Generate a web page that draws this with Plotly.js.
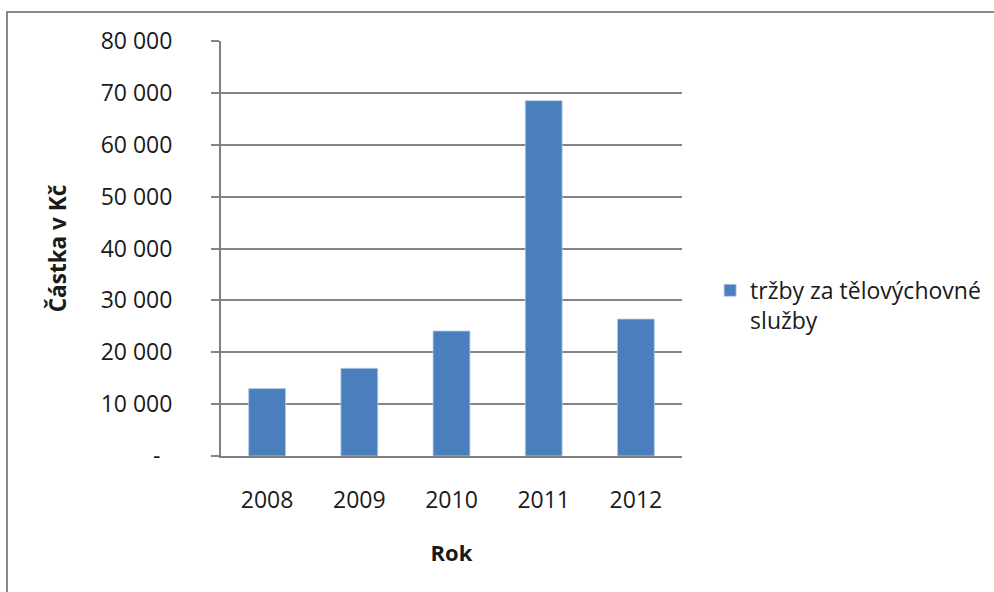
<!DOCTYPE html>
<html>
<head>
<meta charset="utf-8">
<script src="https://cdn.plot.ly/plotly-3.0.1.min.js"></script>
<style>
  html, body { margin: 0; padding: 0; background: #fff; }
  #wrap { position: relative; width: 994px; height: 592px; overflow: hidden; }
  #chart { position: absolute; left: 0; top: 0; width: 994px; height: 592px; }
  #frame { position: absolute; left: 6px; top: 11px; width: 1000px; height: 600px;
           border-left: 2px solid #888; border-top: 2px solid #888; pointer-events: none; }
</style>
</head>
<body>
<div id="wrap">
  <div id="chart"></div>
  <div id="frame"></div>
</div>
<script>
const years = ["2008", "2009", "2010", "2011", "2012"];
const revenue = [13000, 16900, 24100, 68500, 26400];
const seriesName = "tržby za tělovýchovné<br>služby";
const yTickVals = [0, 10000, 20000, 30000, 40000, 50000, 60000, 70000, 80000];
const yTickText = ["-\u00a0\u00a0", "10 000", "20 000", "30 000", "40 000", "50 000", "60 000", "70 000", "80 000"];
const yTitle = "Částka v Kč";
const xTitle = "Rok";

const font = "Open Sans, Noto Sans, sans-serif";

Plotly.newPlot("chart", [{
  type: "bar",
  x: years,
  y: revenue,
  name: seriesName,
  showlegend: true,
  marker: { color: "#4a7ebd", line: { color: "#b9cde6", width: 0.8 } }
}], {
  width: 994, height: 592,
  margin: { l: 221, r: 312, t: 41, b: 136, autoexpand: false },
  paper_bgcolor: "rgba(0,0,0,0)",
  plot_bgcolor: "#fff",
  bargap: 0.6,
  font: { family: font, color: "#1a1a1a", size: 23 },
  xaxis: {
    type: "category",
    showline: true, linecolor: "#808080", linewidth: 2,
    ticks: "", ticklabelstandoff: 22,
    tickfont: { family: font, size: 23, color: "#1a1a1a" },
    title: { text: xTitle, font: { family: font, size: 22, color: "#1a1a1a", weight: "bold" }, standoff: 32 }
  },
  yaxis: {
    range: [0, 80000],
    tickvals: yTickVals, ticktext: yTickText,
    showline: true, linecolor: "#808080", linewidth: 2,
    showgrid: true, gridcolor: "#858585", gridwidth: 2,
    zeroline: false,
    ticks: "outside", ticklen: 8, tickwidth: 2, tickcolor: "#858585",
    ticklabelstandoff: 34,
    tickfont: { family: font, size: 23, color: "#1a1a1a" },
    title: { text: yTitle, font: { family: font, size: 22.5, color: "#1a1a1a", weight: "bold" }, standoff: 28 }
  },
  legend: {
    x: 1.061, xanchor: "left", y: 0.363, yanchor: "middle",
    xref: "paper", yref: "paper",
    font: { family: font, size: 23, color: "#1a1a1a" },
    itemwidth: 30, tracegroupgap: 0, valign: "top",
    bgcolor: "rgba(0,0,0,0)"
  },
  showlegend: true
}, { staticPlot: true, displayModeBar: false });
</script>
</body>
</html>
